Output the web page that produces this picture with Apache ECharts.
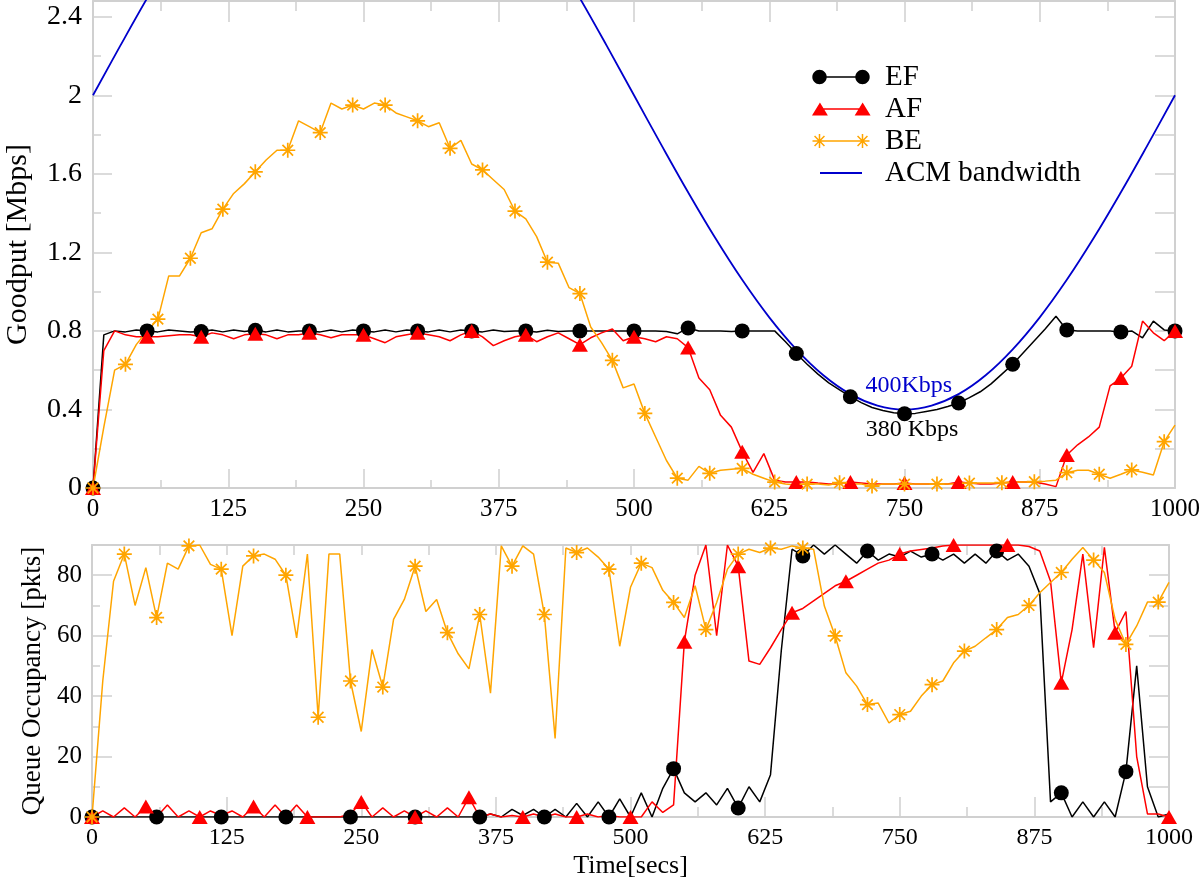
<!DOCTYPE html>
<html>
<head>
<meta charset="utf-8">
<script src="https://cdn.jsdelivr.net/npm/echarts@6/dist/echarts.min.js"></script>
<style>html,body{margin:0;padding:0;background:#fff}#chart{width:1200px;height:882px}</style>
</head>
<body>
<div id="chart"></div>
<script>
// ---------------- DATA ----------------
const time = [
  0,10,20,30,40,50,60,70,80,90,
  100,110,120,130,140,150,160,170,180,190,
  200,210,220,230,240,250,260,270,280,290,
  300,310,320,330,340,350,360,370,380,390,
  400,410,420,430,440,450,460,470,480,490,
  500,510,520,530,540,550,560,570,580,590,
  600,610,620,630,640,650,660,670,680,690,
  700,710,720,730,740,750,760,770,780,790,
  800,810,820,830,840,850,860,870,880,890,
  900,910,920,930,940,950,960,970,980,990,
  1000];

const efGoodput = [
  0,0.78,0.80,0.795,0.805,0.80,0.795,0.805,0.80,0.795,
  0.797,0.805,0.795,0.805,0.797,0.803,0.795,0.805,0.795,0.80,
  0.80,0.795,0.805,0.795,0.805,0.80,0.795,0.805,0.795,0.805,
  0.80,0.795,0.805,0.795,0.805,0.80,0.795,0.805,0.797,0.80,
  0.80,0.795,0.803,0.797,0.80,0.80,0.80,0.80,0.80,0.80,
  0.80,0.80,0.80,0.797,0.785,0.815,0.80,0.80,0.80,0.797,
  0.80,0.80,0.80,0.80,0.745,0.685,0.63,0.58,0.535,0.50,
  0.465,0.435,0.41,0.395,0.383,0.378,0.38,0.39,0.40,0.415,
  0.433,0.46,0.49,0.53,0.58,0.63,0.69,0.75,0.81,0.875,
  0.805,0.80,0.80,0.80,0.80,0.795,0.80,0.765,0.85,0.805,
  0.80];

const afGoodput = [
  0,0.70,0.80,0.78,0.77,0.77,0.77,0.775,0.78,0.78,
  0.77,0.79,0.78,0.76,0.78,0.785,0.78,0.76,0.78,0.78,
  0.79,0.78,0.765,0.78,0.78,0.78,0.76,0.74,0.77,0.78,
  0.79,0.78,0.77,0.75,0.78,0.80,0.77,0.725,0.75,0.77,
  0.78,0.745,0.77,0.79,0.76,0.73,0.765,0.79,0.81,0.75,
  0.77,0.76,0.745,0.77,0.76,0.715,0.56,0.50,0.37,0.31,
  0.185,0.08,0.175,0.04,0.03,0.03,0.03,0.025,0.02,0.02,
  0.03,0.025,0.02,0.02,0.02,0.025,0.02,0.02,0.02,0.02,
  0.03,0.025,0.02,0.02,0.025,0.03,0.03,0.03,0.02,0.007,
  0.168,0.22,0.26,0.31,0.52,0.56,0.62,0.85,0.79,0.75,
  0.80];

const beGoodput = [
  0,0.31,0.60,0.63,0.73,0.80,0.86,1.08,1.08,1.17,
  1.30,1.32,1.42,1.50,1.55,1.61,1.67,1.72,1.72,1.87,
  1.84,1.81,1.96,1.93,1.95,1.93,1.96,1.95,1.91,1.89,
  1.87,1.84,1.86,1.73,1.77,1.65,1.62,1.57,1.52,1.41,
  1.37,1.28,1.15,1.145,1.02,0.99,0.82,0.74,0.65,0.51,
  0.53,0.38,0.26,0.14,0.05,0.04,0.11,0.075,0.09,0.095,
  0.10,0.07,0.05,0.03,0.02,0.015,0.02,0.02,0.015,0.027,
  0.02,0.02,0.01,0.02,0.02,0.02,0.02,0.02,0.02,0.02,
  0.02,0.025,0.025,0.025,0.027,0.03,0.03,0.032,0.035,0.04,
  0.078,0.09,0.09,0.07,0.05,0.07,0.092,0.08,0.066,0.236,
  0.32];

const acmTime = [
  0,25,50,75,100,125,150,175,200,225,
  250,275,300,325,350,375,400,425,450,475,
  500,525,550,575,600,625,650,675,700,725,
  750,775,800,825,850,875,900,925,950,975,
  1000];
const acmBandwidth = [
  2.000,2.250,2.494,2.726,2.940,3.131,3.294,3.426,3.522,3.580,
  3.600,3.580,3.522,3.426,3.294,3.131,2.940,2.726,2.494,2.250,
  2.000,1.750,1.506,1.274,1.060,0.869,0.706,0.574,0.478,0.420,
  0.400,0.420,0.478,0.574,0.706,0.869,1.060,1.274,1.506,1.750,
  2.000];

const efQueue = [
  0,0,0,0,0,0,0,0,0,0,
  0,0,0,0,0,0,0,0,0,0,
  0,0,0,0,0,0,0,0,0,0,
  0,0,0,0,0,0,0,1,0,2.5,
  0.5,2.5,0,2.5,0,4.5,0,5,0,6,
  0,8,0,9.5,16,8,5,8,4,9.5,
  3,10,5,14,55,88.6,86.4,90,87,90,
  87,84,88,85,87,86,88,86,87,85,
  87,84,87,84,88,85,87,83,74,5,
  8,0,5,0,5,0,15,50,10,0,
  1];

const afQueue = [
  0,2,0,3,0,3.5,0,4,0,2,
  0,2,0.5,2,0,3.5,0,4,0,4,
  0,0,0,0,1,5,0,3,0,2,
  0,2,0,3,0,6.5,0,1,0,0.5,
  0,1,0,1,0,0,1,0,0.5,0,
  0,0,5,1.5,4,58,80,90,60,90,
  83,51.6,50.5,56,62,67.6,69,71.5,74,76.5,
  78,80,82,84,85,87,88,88.5,89,89.7,
  90,90,90,90,90,90,90,89.5,88,78,
  44.4,62,87,56,89.2,61,68,20,1,1,
  0];

const beQueue = [
  0,45,78,87,70,82.5,66,84,82,89.7,
  90,83.6,82,60,83,86.4,87,85.3,80,59.3,
  87,33,87,87,45,28.3,55.4,43,65.4,72,
  83,68,72,61,54,49,67,41,89.7,83,
  89.7,87,67,26,89,87.5,89,86,82,56.5,
  76,84,82.5,75,71,66,76.5,62,71,82,
  87,88.6,87.5,89,88.6,89.7,89,88.6,69.8,59.9,
  47.7,43.3,37.2,37.7,31.1,33.9,35,40,43.8,45,
  51,54.9,56.5,59.3,62,66,67,70,74.2,77.6,
  80.9,85.3,89.2,85,80.9,65.4,57.1,63.2,71.1,71.1,
  77.6];

const annotations = [
  {x: 754, y: 0.52, text: '400Kbps', color: '#0000cc'},
  {x: 757, y: 0.296, text: '380 Kbps', color: '#000000'}
];

// ---------------- STYLE HELPERS ----------------
const FONT = 'Liberation Serif';
const GRAY = '#d0d0d0';
const C_EF = '#000000', C_AF = '#ff0000', C_BE = '#ffa500', C_ACM = '#0000cc';

function pairs(xs, ys) { return xs.map((x, i) => [x, ys[i]]); }
function every(n, sym) { return function (v, p) { return p.dataIndex % n === 0 ? sym : 'none'; }; }
function f2(v) { return (+v).toFixed(2); }
function poly(pts) { return 'M' + pts.map(p => f2(p[0]) + ' ' + f2(p[1])).join(' L') + ' Z '; }
function circlePts(cx, cy, r) { const pts = []; for (let i = 0; i < 32; i++) { const a = i / 32 * 2 * Math.PI; pts.push([cx + r * Math.cos(a), cy + r * Math.sin(a)]); } return pts; }
function bar(cx, cy, L, w, th) {
  const u = [Math.cos(th), Math.sin(th)], n = [-Math.sin(th), Math.cos(th)];
  return [[cx + L*u[0] + w*n[0], cy + L*u[1] + w*n[1]], [cx - L*u[0] + w*n[0], cy - L*u[1] + w*n[1]],
          [cx - L*u[0] - w*n[0], cy - L*u[1] - w*n[1]], [cx + L*u[0] - w*n[0], cy + L*u[1] - w*n[1]]];
}
function asterisk(cx, cy, L, w) { return [0, 45, 90, 135].map(d => poly(bar(cx, cy, L, w, d * Math.PI / 180))).join(''); }
function rect(x1, y1, x2, y2) { return poly([[x1, y1], [x2, y1], [x2, y2], [x1, y2]]); }

const STAR = 'path://' + asterisk(7, 7, 7, 0.8);
const FRAME = 'M0 0 M68 16 ';
const ICON_EF = 'path://' + FRAME + poly(circlePts(7.5, 8, 7.2)) + poly(circlePts(50.5, 8, 7.2)) + rect(14.5, 7.25, 43.5, 8.75);
const ICON_AF = 'path://' + FRAME + poly([[7.5, 1.5], [15.5, 14.5], [-0.5, 14.5]]) + poly([[50.5, 1.5], [58.5, 14.5], [42.5, 14.5]]) + rect(7.5, 7.3, 50.5, 8.7);
const ICON_BE = 'path://' + FRAME + asterisk(7.5, 8, 7, 0.75) + asterisk(50.5, 8, 7, 0.75) + rect(7.5, 7.3, 50.5, 8.7);
const ICON_ACM = 'path://' + FRAME + rect(8, 7, 50, 9);

const axLine = { show: true, onZero: false, lineStyle: { color: GRAY, width: 2 } };
const noLine = { show: false, onZero: false };
function ticks(len) { return { show: true, inside: true, length: len, lineStyle: { color: GRAY, width: 1.5 } }; }
function minor(len) { return { show: true, splitNumber: 2, length: len, lineStyle: { color: GRAY, width: 1.5 } }; }
const noLabel = { show: false };
const noSplit = { show: false };

function fmtStep(step, dec) {
  return function (v) { const k = v / step; return Math.abs(k - Math.round(k)) < 1e-6 ? String(+v.toFixed(dec)) : ''; };
}
const plainNum = v => String(v);

const GRID_TOP = 0, GRID_BOT = 1;

const option = {
  animation: false,
  backgroundColor: '#ffffff',
  grid: [
    { left: 93, top: 1, width: 1082, height: 487, outerBoundsMode: 'none', containLabel: false },
    { left: 92, top: 545, width: 1077, height: 272, outerBoundsMode: 'none', containLabel: false }
  ],
  xAxis: [
    { gridIndex: GRID_TOP, type: 'value', position: 'bottom', min: 0, max: 1000, interval: 125,
      axisLine: axLine, axisTick: ticks(19), minorTick: minor(8), splitLine: noSplit, minorSplitLine: noSplit,
      axisLabel: { color: '#000', fontFamily: FONT, fontSize: 25, margin: 9, formatter: plainNum } },
    { gridIndex: GRID_TOP, type: 'value', position: 'top', min: 0, max: 1000, interval: 125,
      axisLine: axLine, axisTick: ticks(21), minorTick: minor(10), splitLine: noSplit, axisLabel: noLabel },
    { gridIndex: GRID_BOT, type: 'value', position: 'bottom', min: 0, max: 1000, interval: 125,
      axisLine: axLine, axisTick: ticks(20), minorTick: minor(10), splitLine: noSplit, minorSplitLine: noSplit,
      axisLabel: { color: '#000', fontFamily: FONT, fontSize: 24, margin: 9, formatter: plainNum },
      name: 'Time[secs]', nameLocation: 'middle', nameGap: 36,
      nameTextStyle: { color: '#000', fontFamily: FONT, fontSize: 26 } },
    { gridIndex: GRID_BOT, type: 'value', position: 'top', min: 0, max: 1000, interval: 62.5,
      axisLine: axLine, axisTick: ticks(10), splitLine: noSplit, axisLabel: noLabel }
  ],
  yAxis: [
    { gridIndex: GRID_TOP, type: 'value', position: 'left', min: 0, max: 2.48, interval: 0.4,
      axisLine: axLine, axisTick: ticks(19), splitLine: noSplit,
      axisLabel: { color: '#000', fontFamily: FONT, fontSize: 28, margin: 11, showMaxLabel: false, formatter: fmtStep(0.4, 1) },
      name: 'Goodput [Mbps]', nameLocation: 'middle', nameGap: 60,
      nameTextStyle: { color: '#000', fontFamily: FONT, fontSize: 30 } },
    { gridIndex: GRID_TOP, type: 'value', position: 'left', min: 0, max: 2.48, interval: 0.2,
      axisLine: noLine, axisTick: ticks(8), splitLine: noSplit, axisLabel: noLabel },
    { gridIndex: GRID_TOP, type: 'value', position: 'right', min: 0, max: 2.48, interval: 0.2,
      axisLine: axLine, axisTick: ticks(20), splitLine: noSplit, axisLabel: noLabel },
    { gridIndex: GRID_BOT, type: 'value', position: 'left', min: 0, max: 90, interval: 20,
      axisLine: axLine, axisTick: ticks(20), splitLine: noSplit,
      axisLabel: { color: '#000', fontFamily: FONT, fontSize: 25, margin: 10, showMaxLabel: false, formatter: fmtStep(20, 0) },
      name: 'Queue Occupancy [pkts]', nameLocation: 'middle', nameGap: 46,
      nameTextStyle: { color: '#000', fontFamily: FONT, fontSize: 27 } },
    { gridIndex: GRID_BOT, type: 'value', position: 'left', min: 0, max: 90, interval: 10,
      axisLine: noLine, axisTick: ticks(8), splitLine: noSplit, axisLabel: noLabel },
    { gridIndex: GRID_BOT, type: 'value', position: 'right', min: 0, max: 90, interval: 10,
      axisLine: axLine, axisTick: ticks(20), splitLine: noSplit, axisLabel: noLabel }
  ],
  legend: {
    show: true, orient: 'vertical', left: 812, top: 62, padding: 0, itemGap: 2,
    itemWidth: 68, itemHeight: 16, selectedMode: false,
    textStyle: { color: '#000', fontFamily: FONT, fontSize: 29, lineHeight: 30 },
    data: [
      { name: 'EF', icon: ICON_EF, itemStyle: { color: C_EF, borderWidth: 0 } },
      { name: 'AF', icon: ICON_AF, itemStyle: { color: C_AF, borderWidth: 0 } },
      { name: 'BE', icon: ICON_BE, itemStyle: { color: C_BE, borderWidth: 0 } },
      { name: 'ACM bandwidth', icon: ICON_ACM, itemStyle: { color: C_ACM, borderWidth: 0 } }
    ]
  },
  series: [
    { name: 'EF', type: 'line', xAxisIndex: 0, yAxisIndex: 0, data: pairs(time, efGoodput),
      symbol: every(5, 'circle'), symbolSize: 15, showSymbol: true, showAllSymbol: true,
      lineStyle: { color: C_EF, width: 1.5 }, itemStyle: { color: C_EF, borderWidth: 0 } },
    { name: 'AF', type: 'line', xAxisIndex: 0, yAxisIndex: 0, data: pairs(time, afGoodput),
      symbol: every(5, 'triangle'), symbolSize: [16, 14], showSymbol: true, showAllSymbol: true,
      lineStyle: { color: C_AF, width: 1.5 }, itemStyle: { color: C_AF, borderWidth: 0 } },
    { name: 'BE', type: 'line', xAxisIndex: 0, yAxisIndex: 0, data: pairs(time, beGoodput),
      symbol: every(3, STAR), symbolSize: 15, showSymbol: true, showAllSymbol: true,
      lineStyle: { color: C_BE, width: 1.5 }, itemStyle: { color: C_BE, borderWidth: 0 } },
    { name: 'ACM bandwidth', type: 'line', xAxisIndex: 0, yAxisIndex: 0, data: pairs(acmTime, acmBandwidth),
      symbol: 'none', smooth: 0.4, lineStyle: { color: C_ACM, width: 1.8 }, itemStyle: { color: C_ACM },
      markPoint: {
        symbol: 'circle', symbolSize: 1, silent: true, itemStyle: { color: 'rgba(0,0,0,0)' },
        label: { show: true, position: 'inside', fontFamily: FONT, fontSize: 24 },
        data: annotations.map(a => ({ coord: [a.x, a.y], label: { formatter: a.text, color: a.color } }))
      } },
    { name: 'EF', type: 'line', xAxisIndex: 2, yAxisIndex: 3, data: pairs(time, efQueue),
      symbol: every(6, 'circle'), symbolSize: 15, showSymbol: true, showAllSymbol: true,
      lineStyle: { color: C_EF, width: 1.5 }, itemStyle: { color: C_EF, borderWidth: 0 } },
    { name: 'AF', type: 'line', xAxisIndex: 2, yAxisIndex: 3, data: pairs(time, afQueue),
      symbol: every(5, 'triangle'), symbolSize: [16, 14], showSymbol: true, showAllSymbol: true,
      lineStyle: { color: C_AF, width: 1.5 }, itemStyle: { color: C_AF, borderWidth: 0 } },
    { name: 'BE', type: 'line', xAxisIndex: 2, yAxisIndex: 3, data: pairs(time, beQueue),
      symbol: every(3, STAR), symbolSize: 15, showSymbol: true, showAllSymbol: true,
      lineStyle: { color: C_BE, width: 1.5 }, itemStyle: { color: C_BE, borderWidth: 0 } }
  ]
};

const chart = echarts.init(document.getElementById('chart'), null, { renderer: 'canvas' });
chart.setOption(option);
</script>
</body>
</html>
